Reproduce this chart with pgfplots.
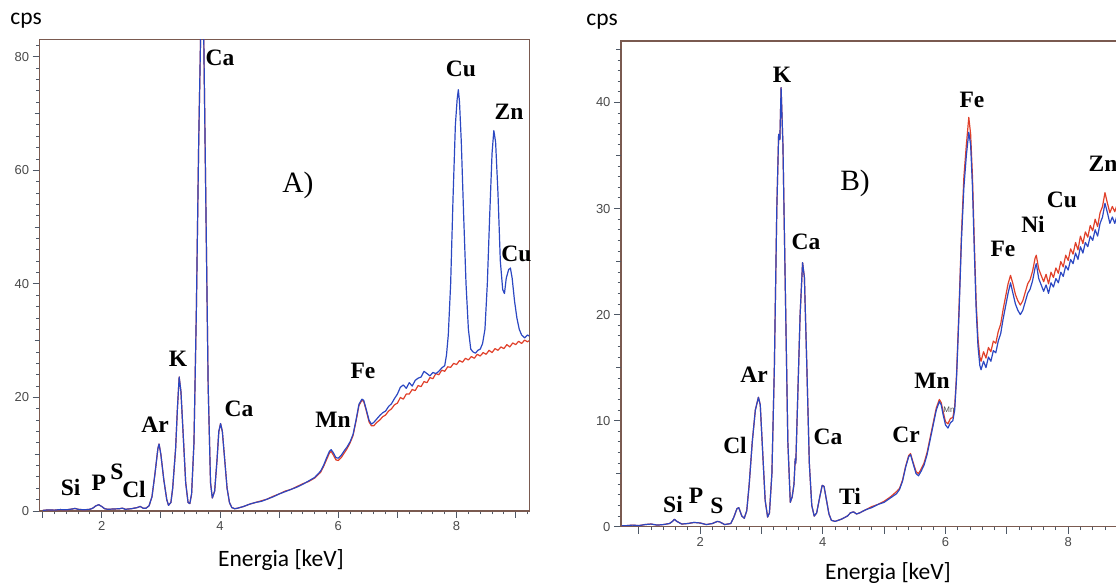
\documentclass[border=0pt]{standalone}
\usepackage{pgfplots}
\pgfplotsset{compat=1.18}
\usepackage{fontspec}
\setmainfont{Liberation Serif}
\newfontfamily\carlito{Carlito}
\newfontfamily\arialf{Liberation Sans}
\definecolor{specBlue}{HTML}{2B47C2}
\definecolor{specRed}{HTML}{E0402A}
\definecolor{frameCol}{HTML}{7A5A50}
\definecolor{tickCol}{HTML}{4E5866}
\definecolor{lblCol}{HTML}{4A4A4A}

\pgfplotsset{
  xrf/.style={
    scale only axis,
    anchor=south west,
    axis line style={frameCol, line width=1.1pt},
    tick align=outside,
    xtick pos=left, ytick pos=left,
    major tick length=7pt, minor tick length=3.5pt,
    every tick/.style={tickCol, line width=0.9pt},
    tick label style={font=\arialf\fontsize{13}{13}\selectfont, color=lblCol},
    /pgf/number format/assume math mode=true,
    xtick={1,...,9},
    xticklabels={,2,,4,,6,,8,},
    minor xtick={1,1.2,...,9.3},
    extra y tick labels={},
    extra y tick style={major tick length=5pt, ytick pos=left},
    clip=true,
  },
  spec/.style={line width=1.2pt, line join=round},
}

\newcommand{\el}[3]{\node[font=\bfseries\fontsize{23.5}{24}\selectfont, inner sep=0pt] at (#1pt,#2pt) {#3};}

\begin{document}
\begin{tikzpicture}
\path[use as bounding box] (0pt,0pt) rectangle (1116pt,585pt);
\clip (0pt,0pt) rectangle (1116pt,585pt);

% ---------------- panel A ----------------
\begin{axis}[xrf,
  at={(39.6pt,74pt)}, width=489.7pt, height=471.8pt,
  xmin=0.95, xmax=9.23, ymin=0, ymax=83.1,
  ytick={0,20,40,60,80},
  minor ytick={0,2,...,82},
  extra y ticks={10,30,50,70},
]
  \addplot[spec, specRed] coordinates {
    (1.00,0.1) (1.10,0.2) (1.20,0.15) (1.30,0.25) (1.40,0.2) (1.50,0.35) (1.55,0.45)
    (1.60,0.3) (1.70,0.2) (1.80,0.3) (1.85,0.5) (1.90,0.9) (1.95,1.1) (2.00,0.8)
    (2.05,0.4) (2.10,0.3) (2.20,0.35) (2.30,0.4) (2.35,0.5) (2.40,0.3) (2.50,0.4)
    (2.60,0.6) (2.65,0.8) (2.70,0.5) (2.75,0.5) (2.80,0.9) (2.85,2.5) (2.90,6.5)
    (2.95,11.0) (2.97,11.8) (3.00,10.0) (3.05,5.5) (3.10,2.0) (3.13,1.0) (3.17,1.5)
    (3.20,4.0) (3.25,11.0) (3.28,18.0) (3.31,23.6) (3.34,21.0) (3.38,13.0) (3.42,5.0)
    (3.46,1.5) (3.49,1.3) (3.52,3.0) (3.56,12.0) (3.60,35.0) (3.64,65.0) (3.68,88.0)
    (3.72,88.0) (3.76,55.0) (3.80,22.0) (3.84,5.0) (3.87,2.3) (3.91,3.5) (3.95,9.0)
    (3.98,14.0) (4.01,15.4) (4.04,14.0) (4.08,9.0) (4.12,4.0) (4.16,1.5) (4.20,0.6)
    (4.25,0.4) (4.30,0.5) (4.40,0.8) (4.50,1.2) (4.60,1.5) (4.70,1.8) (4.80,2.1)
    (4.90,2.6) (5.00,3.0) (5.10,3.5) (5.20,3.8) (5.30,4.3) (5.40,4.8) (5.50,5.2)
    (5.60,5.8) (5.70,6.8) (5.75,7.8) (5.80,9.0) (5.85,10.2) (5.88,10.5) (5.92,9.8)
    (5.96,9.0) (6.00,8.9) (6.05,9.4) (6.10,10.2) (6.15,11.0) (6.20,12.0) (6.25,13.3)
    (6.30,15.8) (6.35,18.6) (6.40,19.5) (6.43,19.3) (6.47,17.8) (6.52,15.7) (6.56,15.0)
    (6.60,15.0) (6.65,15.6) (6.70,16.0) (6.75,16.6) (6.80,16.9) (6.85,17.6) (6.90,18.0)
    (6.95,18.7) (7.00,19.0) (7.05,20.0) (7.10,19.7) (7.15,20.6) (7.20,20.6) (7.25,21.4)
    (7.30,21.2) (7.35,22.1) (7.40,21.9) (7.45,22.8) (7.50,22.6) (7.55,23.5) (7.60,23.3)
    (7.65,24.2) (7.70,24.0) (7.75,24.8) (7.80,24.6) (7.85,25.4) (7.90,25.3) (7.95,26.0)
    (8.00,25.8) (8.05,26.5) (8.10,26.2) (8.15,26.9) (8.20,26.6) (8.25,27.2) (8.30,26.9)
    (8.35,27.6) (8.40,27.3) (8.45,27.9) (8.50,27.6) (8.55,28.3) (8.60,27.9) (8.65,28.6)
    (8.70,28.3) (8.75,28.9) (8.80,28.6) (8.85,29.3) (8.90,28.9) (8.95,29.6) (9.00,29.3)
    (9.05,29.9) (9.10,29.5) (9.15,30.1) (9.20,29.8) (9.23,30.0)
  };
  \addplot[spec, specBlue] coordinates {
    (1.00,0.1) (1.10,0.2) (1.20,0.15) (1.30,0.25) (1.40,0.2) (1.50,0.35) (1.55,0.45)
    (1.60,0.3) (1.70,0.2) (1.80,0.3) (1.85,0.5) (1.90,0.9) (1.95,1.1) (2.00,0.8)
    (2.05,0.4) (2.10,0.3) (2.20,0.35) (2.30,0.4) (2.35,0.5) (2.40,0.3) (2.50,0.4)
    (2.60,0.6) (2.65,0.8) (2.70,0.5) (2.75,0.5) (2.80,0.9) (2.85,2.5) (2.90,6.5)
    (2.95,11.0) (2.97,11.8) (3.00,10.0) (3.05,5.5) (3.10,2.0) (3.13,1.0) (3.17,1.5)
    (3.20,4.0) (3.25,11.0) (3.28,18.0) (3.31,23.6) (3.34,21.0) (3.38,13.0) (3.42,5.0)
    (3.46,1.5) (3.49,1.3) (3.52,3.0) (3.56,12.0) (3.60,35.0) (3.64,65.0) (3.68,88.0)
    (3.72,88.0) (3.76,55.0) (3.80,22.0) (3.84,5.0) (3.87,2.3) (3.91,3.5) (3.95,9.0)
    (3.98,14.0) (4.01,15.4) (4.04,14.0) (4.08,9.0) (4.12,4.0) (4.16,1.5) (4.20,0.6)
    (4.25,0.4) (4.30,0.5) (4.40,0.8) (4.50,1.2) (4.60,1.5) (4.70,1.7) (4.80,2.1)
    (4.90,2.5) (5.00,3.0) (5.10,3.4) (5.20,3.8) (5.30,4.2) (5.40,4.7) (5.50,5.3)
    (5.60,5.9) (5.70,7.0) (5.75,8.0) (5.80,9.3) (5.85,10.5) (5.88,10.8) (5.92,10.2)
    (5.96,9.4) (6.00,9.3) (6.05,9.8) (6.10,10.6) (6.15,11.3) (6.20,12.2) (6.25,13.5)
    (6.30,16.0) (6.35,18.8) (6.40,19.7) (6.43,19.5) (6.47,18.0) (6.52,16.0) (6.56,15.3)
    (6.60,15.6) (6.65,16.2) (6.70,16.8) (6.75,17.3) (6.80,17.6) (6.85,18.4) (6.90,18.9)
    (6.95,19.8) (7.00,20.6) (7.05,21.8) (7.10,22.2) (7.15,21.6) (7.20,22.6) (7.25,22.0)
    (7.30,23.0) (7.35,23.4) (7.40,23.6) (7.45,24.6) (7.50,24.2) (7.55,23.8) (7.60,24.4)
    (7.65,24.2) (7.70,24.6) (7.75,25.2) (7.80,25.6) (7.83,27.5) (7.86,31.0) (7.90,40.0)
    (7.94,55.0) (7.98,68.0) (8.01,72.5) (8.03,74.2) (8.05,72.0) (8.08,65.0) (8.12,52.0)
    (8.16,40.0) (8.20,32.0) (8.24,28.5) (8.28,28.0) (8.32,27.8) (8.36,28.3) (8.40,28.5)
    (8.44,29.5) (8.48,32.0) (8.52,40.0) (8.56,52.0) (8.60,63.0) (8.63,67.0) (8.66,65.0)
    (8.70,56.0) (8.74,44.0) (8.78,39.0) (8.81,38.3) (8.84,41.0) (8.88,42.5) (8.91,42.8)
    (8.94,41.0) (8.98,37.0) (9.02,34.0) (9.06,32.0) (9.10,31.0) (9.15,30.5) (9.20,31.0)
    (9.23,30.8)
  };
\end{axis}

% ---------------- panel B ----------------
\begin{axis}[xrf,
  at={(621pt,58.3pt)}, width=526.9pt, height=485.7pt,
  xmin=0.71, xmax=9.3, ymin=0, ymax=45.8,
  ytick={0,10,20,30,40},
  minor ytick={0,1,...,45},
  extra y ticks={5,15,25,35,45},
]
  \addplot[spec, specRed] coordinates {
    (0.72,0.1) (0.80,0.1) (0.90,0.15) (1.00,0.1) (1.10,0.2) (1.20,0.25) (1.30,0.15)
    (1.40,0.2) (1.50,0.3) (1.55,0.5) (1.58,0.7) (1.62,0.5) (1.70,0.25) (1.80,0.3)
    (1.90,0.4) (2.00,0.35) (2.10,0.2) (2.20,0.3) (2.28,0.5) (2.32,0.45) (2.40,0.2)
    (2.50,0.3) (2.55,0.9) (2.60,1.7) (2.63,1.8) (2.68,1.0) (2.72,0.8) (2.76,1.5)
    (2.80,4.0) (2.85,8.0) (2.90,11.0) (2.95,12.2) (2.98,11.5) (3.02,7.0) (3.06,2.5)
    (3.10,0.9) (3.13,1.3) (3.17,5.0) (3.21,15.0) (3.25,30.0) (3.28,37.0) (3.30,36.5)
    (3.32,41.4) (3.35,36.0) (3.39,22.0) (3.43,8.0) (3.47,2.3) (3.50,2.8) (3.53,4.0)
    (3.55,6.4) (3.56,6.0) (3.59,12.0) (3.63,20.0) (3.67,24.9) (3.70,23.5) (3.74,15.0)
    (3.78,6.0) (3.82,2.0) (3.86,1.0) (3.90,1.3) (3.95,2.8) (3.99,3.9) (4.02,3.8)
    (4.06,2.5) (4.10,1.2) (4.14,0.6) (4.20,0.5) (4.30,0.7) (4.40,1.0) (4.45,1.3)
    (4.50,1.4) (4.55,1.2) (4.60,1.3) (4.70,1.6) (4.80,1.9) (4.90,2.1) (5.00,2.4)
    (5.10,2.8) (5.20,3.3) (5.25,3.6) (5.30,4.4) (5.35,5.7) (5.40,6.7) (5.43,6.9)
    (5.47,6.1) (5.52,5.2) (5.56,5.0) (5.60,5.4) (5.65,6.0) (5.70,7.0) (5.75,8.4)
    (5.80,9.8) (5.85,11.2) (5.90,12.0) (5.93,11.7) (5.96,10.9) (6.00,9.9) (6.04,9.7)
    (6.08,10.2) (6.12,10.3) (6.15,11.3) (6.18,14.3) (6.22,20.5) (6.26,27.5) (6.30,33.0)
    (6.34,36.0) (6.38,38.6) (6.41,37.0) (6.44,33.0) (6.47,26.8) (6.50,21.2) (6.53,17.7)
    (6.56,16.0) (6.58,15.6) (6.62,16.5) (6.66,15.9) (6.70,16.9) (6.74,16.5) (6.78,17.5)
    (6.82,17.3) (6.86,18.4) (6.90,19.1) (6.94,20.5) (6.98,21.7) (7.02,22.9) (7.06,23.7)
    (7.10,22.9) (7.14,21.9) (7.18,21.3) (7.22,20.9) (7.26,21.3) (7.30,22.1) (7.34,22.9)
    (7.38,23.3) (7.42,24.1) (7.46,25.3) (7.48,25.6) (7.52,24.3) (7.56,23.7) (7.60,23.1)
    (7.64,23.8) (7.68,22.9) (7.72,24.0) (7.76,23.5) (7.80,24.4) (7.84,23.9) (7.88,25.0)
    (7.92,24.5) (7.96,25.6) (8.00,25.1) (8.04,26.2) (8.08,25.7) (8.12,26.8) (8.16,26.1)
    (8.20,27.4) (8.24,26.7) (8.28,27.8) (8.32,27.3) (8.36,28.4) (8.40,27.9) (8.44,29.0)
    (8.48,28.3) (8.52,29.6) (8.56,30.2) (8.60,31.5) (8.64,30.5) (8.68,29.6) (8.72,30.2)
    (8.76,29.7) (8.80,30.4) (8.85,30.0) (8.90,30.8) (8.95,30.4) (9.00,31.0) (9.05,30.6)
    (9.10,31.2) (9.15,30.8) (9.20,31.3) (9.30,31.0)
  };
  \addplot[spec, specBlue] coordinates {
    (0.72,0.1) (0.80,0.1) (0.90,0.15) (1.00,0.1) (1.10,0.2) (1.20,0.25) (1.30,0.15)
    (1.40,0.2) (1.50,0.3) (1.55,0.5) (1.58,0.7) (1.62,0.5) (1.70,0.25) (1.80,0.3)
    (1.90,0.4) (2.00,0.35) (2.10,0.2) (2.20,0.3) (2.28,0.5) (2.32,0.45) (2.40,0.2)
    (2.50,0.3) (2.55,0.9) (2.60,1.7) (2.63,1.8) (2.68,1.0) (2.72,0.8) (2.76,1.5)
    (2.80,4.0) (2.85,8.0) (2.90,11.0) (2.95,12.2) (2.98,11.5) (3.02,7.0) (3.06,2.5)
    (3.10,0.9) (3.13,1.3) (3.17,5.0) (3.21,15.0) (3.25,30.0) (3.28,37.0) (3.30,36.5)
    (3.32,41.4) (3.35,36.0) (3.39,22.0) (3.43,8.0) (3.47,2.3) (3.50,2.8) (3.53,4.0)
    (3.55,6.4) (3.56,6.0) (3.59,12.0) (3.63,20.0) (3.67,24.9) (3.70,23.5) (3.74,15.0)
    (3.78,6.0) (3.82,2.0) (3.86,1.0) (3.90,1.3) (3.95,2.8) (3.99,3.9) (4.02,3.8)
    (4.06,2.5) (4.10,1.2) (4.14,0.6) (4.20,0.5) (4.30,0.7) (4.40,1.0) (4.45,1.3)
    (4.50,1.4) (4.55,1.2) (4.60,1.3) (4.70,1.6) (4.80,1.8) (4.90,2.1) (5.00,2.3)
    (5.10,2.7) (5.20,3.1) (5.25,3.5) (5.30,4.3) (5.35,5.6) (5.40,6.6) (5.43,6.8)
    (5.47,6.0) (5.52,5.0) (5.56,4.8) (5.60,5.2) (5.65,5.8) (5.70,6.8) (5.75,8.2)
    (5.80,9.6) (5.85,11.0) (5.90,11.8) (5.93,11.5) (5.96,10.6) (6.00,9.6) (6.04,9.3)
    (6.08,9.8) (6.12,10.0) (6.15,11.0) (6.18,14.0) (6.22,20.0) (6.26,27.0) (6.30,32.0)
    (6.34,35.0) (6.38,37.2) (6.41,36.0) (6.44,32.0) (6.47,26.0) (6.50,20.5) (6.53,17.0)
    (6.56,15.2) (6.58,14.8) (6.62,15.6) (6.66,15.0) (6.70,16.0) (6.74,15.6) (6.78,16.6)
    (6.82,16.4) (6.86,17.5) (6.90,18.2) (6.94,19.6) (6.98,20.8) (7.02,22.0) (7.06,23.0)
    (7.10,22.0) (7.14,21.0) (7.18,20.4) (7.22,20.0) (7.26,20.4) (7.30,21.2) (7.34,22.0)
    (7.38,22.4) (7.42,23.2) (7.46,24.4) (7.48,24.8) (7.52,23.4) (7.56,22.8) (7.60,22.2)
    (7.64,22.8) (7.68,22.0) (7.72,23.0) (7.76,22.6) (7.80,23.4) (7.84,23.0) (7.88,24.0)
    (7.92,23.6) (7.96,24.6) (8.00,24.2) (8.04,25.2) (8.08,24.8) (8.12,25.8) (8.16,25.2)
    (8.20,26.4) (8.24,25.8) (8.28,26.8) (8.32,26.4) (8.36,27.4) (8.40,27.0) (8.44,28.0)
    (8.48,27.4) (8.52,28.6) (8.56,29.2) (8.60,30.5) (8.64,29.6) (8.68,28.6) (8.72,29.2)
    (8.76,28.6) (8.80,29.4) (8.85,29.0) (8.90,29.8) (8.95,29.4) (9.00,30.0) (9.05,29.6)
    (9.10,30.2) (9.15,29.8) (9.20,30.3) (9.30,30.0)
  };
\end{axis}

% ---------------- annotations ----------------
\begin{scope}[every node/.style={inner sep=0pt}]
\node[font=\carlito\fontsize{23.5}{24}\selectfont] at (26pt,564.5pt) {cps};
\node[font=\carlito\fontsize{23.5}{24}\selectfont] at (602pt,563pt) {cps};
\node[font=\carlito\fontsize{23.5}{24}\selectfont] at (281pt,25pt) {Energia [keV]};
\node[font=\carlito\fontsize{23.5}{24}\selectfont, anchor=south] at (888pt,1pt) {Energia [keV]};
\node[font=\fontsize{29.5}{30}\selectfont] at (298pt,400pt) {A)};
\node[font=\fontsize{29.5}{30}\selectfont] at (855pt,402pt) {B)};
\node[font=\arialf\fontsize{8}{8}\selectfont, color=lblCol] at (949pt,175pt) {Mn};
\end{scope}
% panel A
\el{220}{527}{Ca}
\el{461}{516}{Cu}
\el{509}{473}{Zn}
\el{516.5}{331}{Cu}
\el{178}{226}{K}
\el{155}{160}{Ar}
\el{239}{176}{Ca}
\el{333}{165}{Mn}
\el{363}{214}{Fe}
\el{70.6}{98}{Si}
\el{98.8}{102}{P}
\el{117}{113}{S}
\el{134}{96}{Cl}
% panel B
\el{782}{510}{K}
\el{972}{485}{Fe}
\el{806}{343}{Ca}
\el{1103}{421}{Zn}
\el{1062}{385}{Cu}
\el{1033}{361}{Ni}
\el{1003}{336}{Fe}
\el{754}{210}{Ar}
\el{932}{204}{Mn}
\el{735}{140}{Cl}
\el{828}{148}{Ca}
\el{906}{150}{Cr}
\el{850}{89}{Ti}
\el{673}{81}{Si}
\el{696}{89}{P}
\el{717}{79}{S}
\end{tikzpicture}
\end{document}
